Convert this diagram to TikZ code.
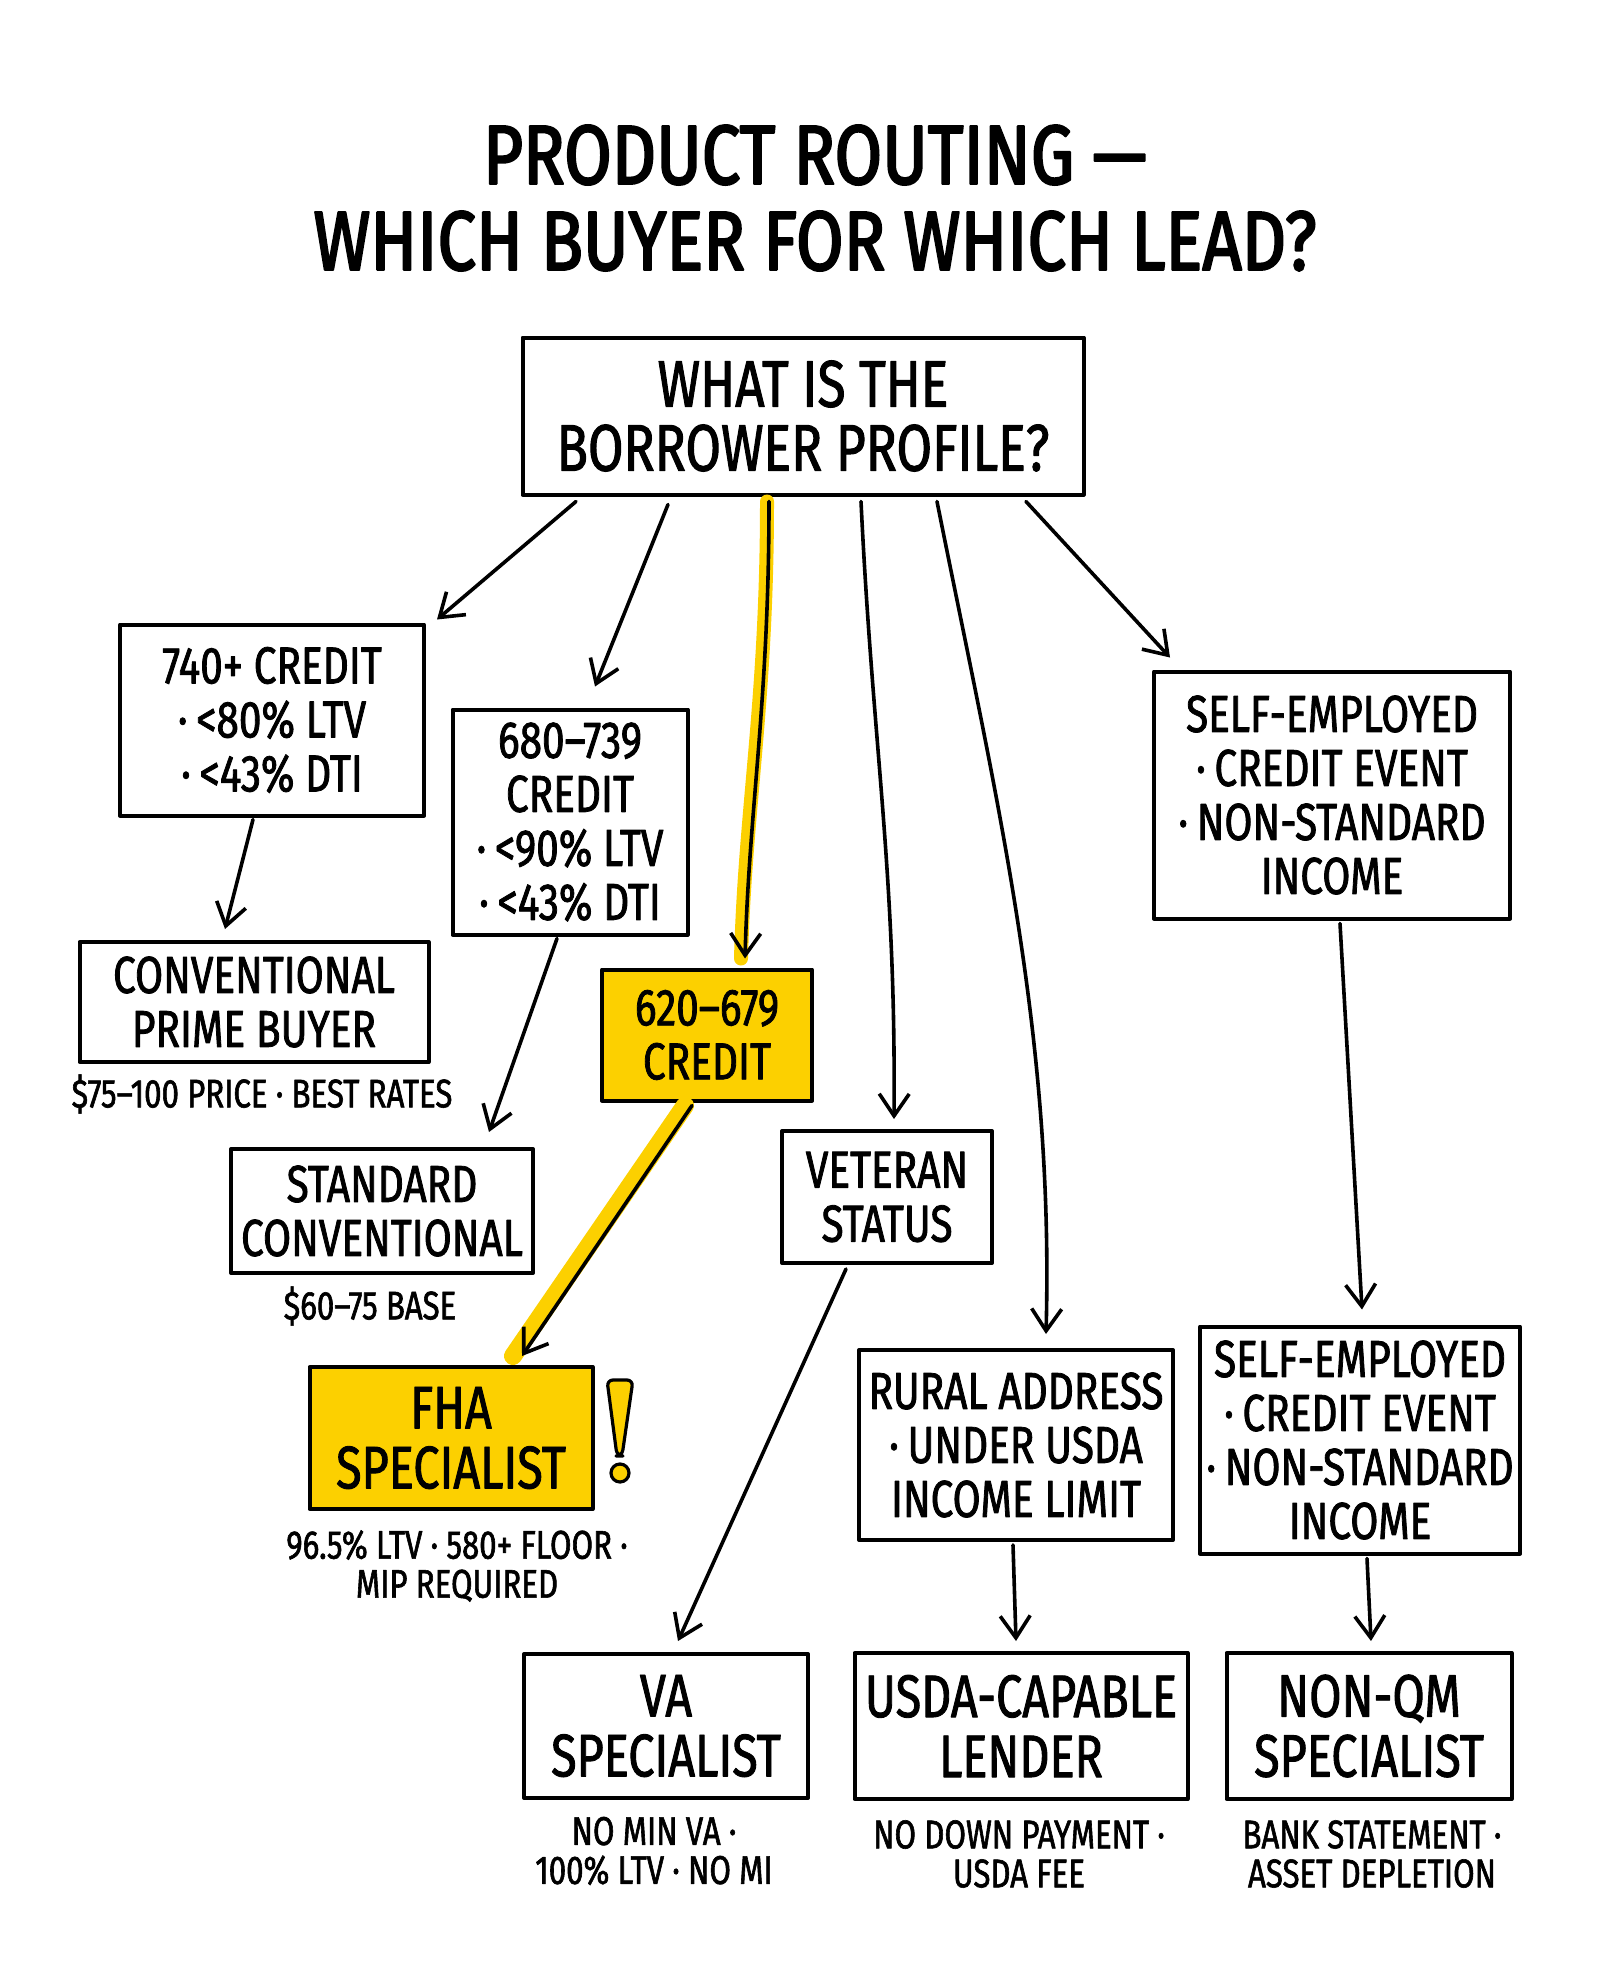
\documentclass[tikz,border=0pt]{standalone}
\usepackage{fontspec}
\setmainfont{Fira Sans}[FakeStretch=0.78,FakeBold=1.5]
\newfontfamily\headfont{Fira Sans}[Ligatures=TeX,FakeStretch=0.82,FakeBold=2.5]
\usetikzlibrary{arrows.meta,positioning,calc}
\definecolor{hl}{RGB}{252,208,0}
\begin{document}
\begin{tikzpicture}[x=0.5pt,y=-0.5pt,line join=round,line cap=round,
	>={Straight Barb[length=11pt,width=15pt]},
	box/.style={draw,line width=2pt,fill=white,align=center,inner sep=0pt,
		font=\fontsize{26}{27}\selectfont},
	hibox/.style={box,fill=hl},
	bigbox/.style={box,font=\fontsize{30}{30}\selectfont},
	link/.style={->,line width=1.8pt},
	glow/.style={line width=7pt,hl},
	note/.style={align=center,inner sep=0pt,font=\fontsize{20}{19.5}\selectfont}]
	\useasboundingbox (0,0) rectangle (1600,1986);
	% title
	\node[align=center,font=\fontsize{42}{43}\headfont] (title) at (815,198)
		{PRODUCT ROUTING ---\\WHICH BUYER FOR WHICH LEAD?};
	% question
	\node[box,minimum width=280.5pt,minimum height=78.5pt,
		font=\fontsize{33}{32}\selectfont] (root) at (803,416)
		{WHAT IS THE\\BORROWER PROFILE?};
	% first level
	\node[box,minimum width=152pt,minimum height=95.5pt] (c740) at (272,720)
		{740+ CREDIT\\·\,<80\% LTV\\·\,<43\% DTI};
	\node[box,minimum width=117.5pt,minimum height=112.5pt] (c680) at (570,822)
		{680--739\\CREDIT\\·\,<90\% LTV\\·\,<43\% DTI};
	\node[hibox,minimum width=105pt,minimum height=65.5pt] (c620) at (707,1035)
		{620--679\\CREDIT};
	\node[box,minimum width=105pt,minimum height=66pt] (vet) at (887,1197)
		{VETERAN\\STATUS};
	\node[box,minimum width=157pt,minimum height=95pt] (rural) at (1016,1445)
		{RURAL ADDRESS\\·\,UNDER USDA\\INCOME LIMIT};
	\node[box,minimum width=178pt,minimum height=123.5pt] (selfA) at (1332,795)
		{SELF-EMPLOYED\\·\,CREDIT EVENT\\·\,NON-STANDARD\\INCOME};
	\node[box,minimum width=160pt,minimum height=113.5pt] (selfB) at (1360,1440)
		{SELF-EMPLOYED\\·\,CREDIT EVENT\\·\,NON-STANDARD\\INCOME};
	% buyers
	\node[box,minimum width=174.5pt,minimum height=60pt] (prime) at (254,1002)
		{CONVENTIONAL\\PRIME BUYER};
	\node[box,minimum width=151pt,minimum height=62pt] (stdconv) at (382,1211)
		{STANDARD\\CONVENTIONAL};
	\node[hibox,font=\fontsize{30}{30}\selectfont,minimum width=141.5pt,minimum height=71pt] (fha) at (451,1438)
		{FHA\\SPECIALIST};
	\node[bigbox,minimum width=142pt,minimum height=72pt] (va) at (666,1726)
		{VA\\SPECIALIST};
	\node[bigbox,minimum width=166.5pt,minimum height=73pt] (usda) at (1021,1726)
		{USDA-CAPABLE\\LENDER};
	\node[bigbox,minimum width=142.5pt,minimum height=73pt] (nonqm) at (1369,1726)
		{NON-QM\\SPECIALIST};
	% notes
	\node[note] (primenote) at (262,1094) {\$75--100 PRICE · BEST RATES};
	\node[note] (stdnote) at (370,1306) {\$60--75 BASE};
	\node[note] (fhanote) at (457,1566) {96.5\% LTV · 580+ FLOOR ·\\MIP REQUIRED};
	\node[note] (vanote) at (654,1851) {NO MIN VA ·\\100\% LTV · NO MI};
	\node[note] (usdanote) at (1019,1854) {NO DOWN PAYMENT ·\\USDA FEE};
	\node[note] (nonqmnote) at (1372,1854) {BANK STATEMENT ·\\ASSET DEPLETION};
	% highlighted route
	\draw[glow] ($(root.south)+(-36,5)$) .. controls +(0,200) and +(4,-150) .. ($(c620.north)+(34,-9)$);
	\draw[glow,line width=9pt] ($(c620.south)+(-22,3)$) -- ($(fha.north)+(62,-9)$);
	% connectors
	\draw[link] ($(root.south)+(-227,5)$) -- ($(c740.north east)+(11,-3)$);
	\draw[link] ($(root.south)+(-135,8)$) -- ($(c680.north)+(25,-21)$);
	\draw[link] ($(root.south)+(-34,5)$) .. controls +(0,200) and +(4,-150) .. ($(c620.north)+(38,-9)$);
	\draw[link] ($(root.south)+(58,5)$) .. controls +(12,250) and +(2,-250) .. ($(vet.north)+(7,-10)$);
	\draw[link] ($(root.south)+(134,5)$) .. controls +(60,300) and +(8,-300) .. ($(rural.north)+(30,-14)$);
	\draw[link] ($(root.south)+(223,5)$) -- ($(selfA.north west)+(18,-12)$);
	\draw[link] ($(c740.south)+(-19,2)$) -- ($(prime.north)+(-29,-11)$);
	\draw[link] ($(c680.south)+(-13,2)$) -- ($(stdconv.north)+(107,-15)$);
	\draw[link] ($(c620.south)+(-15,3)$) -- ($(fha.north)+(71,-9)$);
	\draw[link] ($(vet.south)+(-41,4)$) -- ($(va.north)+(12,-11)$);
	\draw[link] ($(rural.south)+(-3,3)$) -- ($(usda.north)+(-5,-10)$);
	\draw[link] ($(selfA.south)+(8,3)$) -- ($(selfB.north)+(2,-15)$);
	\draw[link] ($(selfB.south)+(7,3)$) -- ($(nonqm.north)+(2,-10)$);
	% warning mark
	\draw[line width=1.6pt,fill=hl,rounded corners=3pt] (607,1380) -- (633,1380) -- (622,1456) -- (617,1456) -- cycle;
	\draw[line width=1.6pt,fill=hl] (620,1473) circle (4.5pt);
\end{tikzpicture}
\end{document}
